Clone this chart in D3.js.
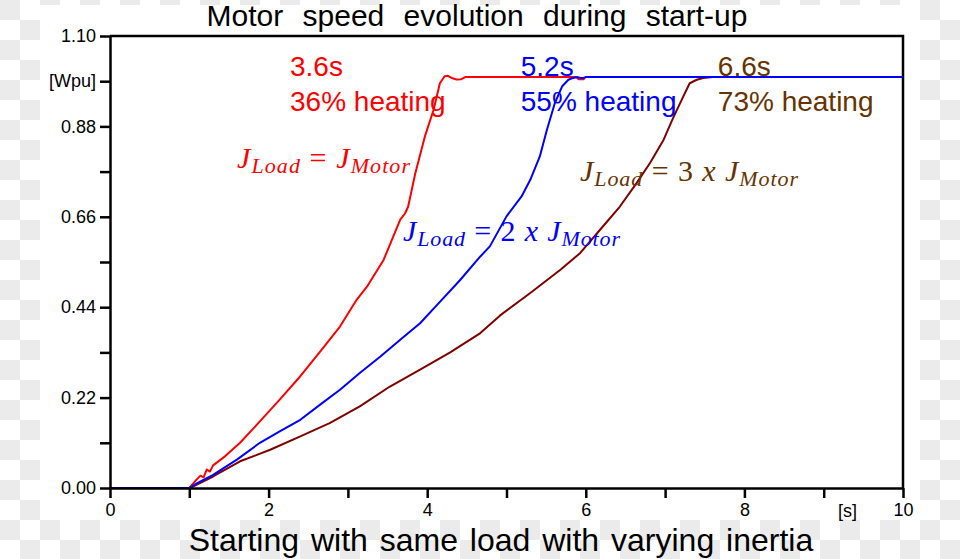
<!DOCTYPE html>
<html><head><meta charset="utf-8">
<script src="https://cdn.jsdelivr.net/npm/d3@7"></script>
<style>body{margin:0;background:#fff}svg{display:block}</style>
</head><body>
<svg id="c" width="960" height="559"></svg>
<script>
// ---- data ----
const xTickValues = [0,1,2,3,4,5,6,7,8,9,10];
const xTickLabels = ["0","","2","","4","","6","","8","","10"];
const yTickValues = [0,0.11,0.22,0.33,0.44,0.55,0.66,0.77,0.88,0.99,1.10];
const yTickLabels = ["0.00","","0.22","","0.44","","0.66","","0.88","[Wpu]","1.10"];

const redT  = [0,1.0,1.08,1.14,1.18,1.22,1.26,1.3,1.45,1.64,1.89,2.14,2.40,2.65,2.90,3.11,3.24,3.45,3.66,3.72,3.76,3.85,3.97,4.08,4.16,4.22,4.26,4.32,4.37,4.43,4.48,5.88,5.91,5.97,6.0,10];
const redV  = [0,0,0.018,0.03,0.026,0.045,0.04,0.055,0.077,0.11,0.162,0.215,0.272,0.332,0.393,0.458,0.49,0.555,0.653,0.668,0.685,0.766,0.855,0.92,0.985,1.002,1.003,0.997,0.994,0.995,1.0,1.0,0.995,0.995,1.0,1.0];
const blueT = [0,1.0,1.1,1.3,1.6,1.89,2.14,2.40,2.65,2.90,3.15,3.41,3.66,3.91,4.16,4.41,4.67,4.79,5.00,5.19,5.30,5.42,5.51,5.61,5.70,5.78,5.84,5.90,5.93,5.97,6.0,10];
const blueV = [0,0,0.012,0.032,0.069,0.11,0.138,0.166,0.203,0.239,0.28,0.32,0.361,0.401,0.453,0.505,0.5635,0.588,0.661,0.7095,0.75,0.807,0.872,0.937,0.977,0.9935,0.998,1.0,0.998,0.998,1.0,1.0];
const brownT = [0,1.0,1.05,1.3,1.64,2.02,2.40,2.77,3.15,3.53,3.91,4.29,4.67,4.92,5.30,5.68,5.93,6.18,6.43,6.64,6.81,6.98,7.10,7.23,7.31,7.40,7.48,7.6,10];
const brownV = [0,0,0.004,0.028,0.065,0.093,0.1255,0.158,0.1985,0.247,0.288,0.33,0.377,0.42,0.4745,0.531,0.572,0.6285,0.685,0.742,0.791,0.847,0.900,0.953,0.985,0.9935,0.9976,1.0,1.0];

const seriesNames = ["brown","red","blue"];
const seriesColors = {red:"#ff0000", blue:"#0000ff", brown:"#800000"};

// ---- chart ----
const svg = d3.select("#c");
const W = 960, H = 559;
const sans = "'Liberation Sans', Arial, sans-serif";

// checkerboard background (transparency pattern)
const defs = svg.append("defs");
const pat = defs.append("pattern").attr("id","chk").attr("width",40).attr("height",40).attr("patternUnits","userSpaceOnUse");
pat.append("rect").attr("width",40).attr("height",40).attr("fill","#ffffff");
pat.append("rect").attr("x",0).attr("y",0).attr("width",20).attr("height",20).attr("fill","#ebebeb");
pat.append("rect").attr("x",20).attr("y",20).attr("width",20).attr("height",20).attr("fill","#ebebeb");
svg.append("rect").attr("width",W).attr("height",H).attr("fill","url(#chk)");
svg.append("rect").attr("x",40).attr("y",5).attr("width",880).attr("height",515).attr("fill","#fff");

const m = {l:110, r:903, t:36, b:488};
const x = d3.scaleLinear().domain([0,10]).range([m.l, m.r]);
const y = d3.scaleLinear().domain([0,1.1]).range([m.b, m.t]);

// frame top/right
svg.append("path").attr("d",`M${m.l},${m.t}H${m.r}V${m.b}`).attr("fill","none").attr("stroke","#000").attr("stroke-width",2.5);

// curves
const data = {
  red: redT.map((t,i)=>[t,redV[i]]),
  blue: blueT.map((t,i)=>[t,blueV[i]]),
  brown: brownT.map((t,i)=>[t,brownV[i]])
};
const line = d3.line().x(d=>x(d[0])).y(d=>y(d[1]));
seriesNames.forEach(n=>{
  svg.append("path").datum(data[n]).attr("d",line).attr("fill","none")
    .attr("stroke",seriesColors[n]).attr("stroke-width",2).attr("stroke-linejoin","round");
});

// axes
const xAxis = d3.axisBottom(x).tickValues(xTickValues).tickFormat((d,i)=>xTickLabels[i]).tickSize(10).tickSizeOuter(0).tickPadding(5);
const yAxis = d3.axisLeft(y).tickValues(yTickValues).tickFormat((d,i)=>yTickLabels[i]).tickSize(10).tickSizeOuter(0).tickPadding(4);
const gx = svg.append("g").attr("transform",`translate(0,${m.b})`).call(xAxis);
const gy = svg.append("g").attr("transform",`translate(${m.l},0)`).call(yAxis);
[gx,gy].forEach(g=>{
  g.selectAll("path.domain").attr("stroke","#000").attr("stroke-width",2.5);
  g.selectAll(".tick line").attr("stroke","#000").attr("stroke-width",2.5);
  g.selectAll(".tick text").attr("fill","#000").style("font-family",sans).style("font-size","18px");
});
gx.selectAll(".tick text").attr("dy","0.72em");
// unit label on x axis
svg.append("text").attr("x",x(9.3)).attr("y",517).attr("text-anchor","middle")
  .style("font-family",sans).style("font-size","18px").text("[s]");

// titles
svg.append("text").attr("x",477).attr("y",26).attr("text-anchor","middle")
  .style("font-family",sans).style("font-size","30px").style("word-spacing","11px")
  .text("Motor speed evolution during start-up");
svg.append("text").attr("x",501).attr("y",551).attr("text-anchor","middle")
  .style("font-family",sans).style("font-size","32px").style("word-spacing","3px")
  .text("Starting with same load with varying inertia");

// annotations: time & heating
const ann = [
  {t1:"3.6s", t2:"36% heating", at:2.27, c:"#ff0000"},
  {t1:"5.2s", t2:"55% heating", at:5.18, c:"#0000ff"},
  {t1:"6.6s", t2:"73% heating", at:7.665, c:"#663300"}
];
ann.forEach(a=>{
  svg.append("text").attr("x",x(a.at)).attr("y",76).attr("fill",a.c)
    .style("font-family",sans).style("font-size","28px").text(a.t1);
  svg.append("text").attr("x",x(a.at)).attr("y",111).attr("fill",a.c)
    .style("font-family",sans).style("font-size","28px").text(a.t2);
});

// math labels
const serif = "'Liberation Serif', 'Times New Roman', serif";
function mathLabel(px, py, parts, color, width){
  const t = svg.append("text").attr("x",px).attr("y",py).attr("fill",color)
    .style("font-family",serif).style("font-size","30px");
  parts.forEach(p=>{
    const s = t.append("tspan").text(p.s);
    if(p.it) s.style("font-style","italic");
    if(p.sub) s.style("font-size","22px").attr("dy",p.dy);
    if(p.dy && !p.sub) s.attr("dy",p.dy);
  });
  t.attr("textLength",width).attr("lengthAdjust","spacing");
}
mathLabel(237,168,[
  {s:"J",it:true},{s:"Load",it:true,sub:true,dy:5},{s:" = ",dy:-5},{s:"J",it:true},{s:"Motor",it:true,sub:true,dy:5}
],"#ff0000",173);
mathLabel(403,241,[
  {s:"J",it:true},{s:"Load",it:true,sub:true,dy:5},{s:" = 2 ",dy:-5},{s:"x",it:true},{s:" "},{s:"J",it:true},{s:"Motor",it:true,sub:true,dy:5}
],"#0000ff",217);
mathLabel(580,181,[
  {s:"J",it:true},{s:"Load",it:true,sub:true,dy:5},{s:" = 3 ",dy:-5},{s:"x",it:true},{s:" "},{s:"J",it:true},{s:"Motor",it:true,sub:true,dy:5}
],"#663300",218);
</script>
</body></html>
